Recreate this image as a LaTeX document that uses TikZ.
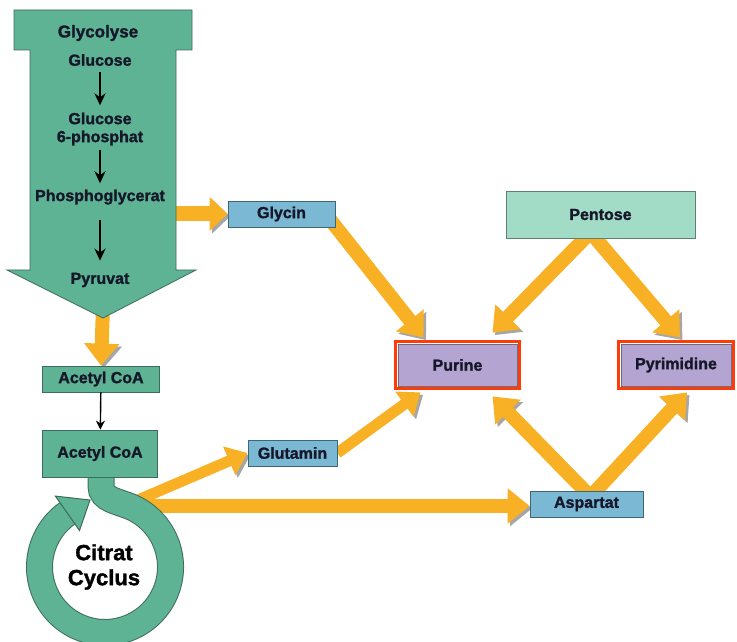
\documentclass[tikz,border=0pt]{standalone}
\usepackage{fontspec}
\setmainfont{Liberation Sans}[BoldFeatures={FakeBold=1.5}]
\usetikzlibrary{arrows.meta}
\pgfdeclarelayer{back}
\pgfsetlayers{back,main}

\definecolor{tealfill}{HTML}{5DB394}
\definecolor{tealline}{HTML}{3D6B5C}
\definecolor{mintfill}{HTML}{A3DCC6}
\definecolor{mintline}{HTML}{5F7F74}
\definecolor{bluefill}{HTML}{7BB8D4}
\definecolor{blueline}{HTML}{3F6675}
\definecolor{lilacfill}{HTML}{B4A4D2}
\definecolor{lilacline}{HTML}{6E6E80}
\definecolor{orangearr}{HTML}{F8B024}
\definecolor{redframe}{HTML}{FF3B0A}
\definecolor{ink}{HTML}{16182A}

\tikzset{
  lbl/.style={font=\fontsize{16}{18}\selectfont\bfseries, text=ink, inner sep=0pt},
  tealbox/.style={lbl, draw=tealline, line width=0.8pt, fill=tealfill},
  mintbox/.style={lbl, draw=mintline, line width=0.8pt, fill=mintfill},
  bluebox/.style={lbl, draw=blueline, line width=0.8pt, fill=bluefill},
  lilacbox/.style={lbl, draw=lilacline, line width=0.8pt, fill=lilacfill},
  fatarrow/.style={line width=14pt, draw=orangearr, -{Triangle[width=34pt,length=22pt]},
    preaction={draw=black!35, transform canvas={xshift=2.5pt,yshift=-2.5pt}}},
  thinarrow/.style={line width=1.9pt, -{Stealth[length=12pt,width=11pt]}}
}

\begin{document}
\begin{tikzpicture}[x=1pt,y=1pt]
\useasboundingbox (0,0) rectangle (737,641);

% Glycolyse
\filldraw [fill=tealfill, draw=tealline, line width=0.8pt]
  (14,631) -- (192,631) -- (192,591) -- (176,591) -- (176,371) -- (196,371)
  -- (103,323) -- (7,371) -- (30,371) -- (30,591) -- (14,591) -- cycle;
\node [lbl, font=\fontsize{17}{19}\selectfont\bfseries] (glyco) at (98,608) {Glycolyse};
\node [lbl] (glucose) at (100,581) {Glucose};
\node [lbl, align=center] (g6p) at (100,512) {Glucose\\6-phosphat};
\node [lbl] (pga) at (100,444) {Phosphoglycerat};
\node [lbl] (pyr) at (100,361) {Pyruvat};
\draw [thinarrow, shorten <=6pt, shorten >=7pt] (glucose) -- (g6p);
\draw [thinarrow, shorten <=4pt, shorten >=6pt] (g6p) -- (pga);
\draw [thinarrow, shorten <=15pt, shorten >=12pt] (pga) -- (pyr);
\coordinate (pyrout) at (103,335);
\coordinate (glyout) at (170,427);

% Citrat Cyclus
\foreach \w/\c in {27pt/tealline,25pt/tealfill}
  \draw [line width=\w, \c] (101,172) -- (101,155) .. controls (101,141) and (118,140) .. (132.7,133.4)
    arc [start angle=65, end angle=-235, radius=65.5];
\filldraw [fill=tealfill, draw=tealline, line width=1pt] (55.4,144.9) -- (90,141) -- (79.5,110.5) -- cycle;
\node [font=\fontsize{22}{25}\selectfont\bfseries, align=center] (citrat) at (104,74) {Citrat\\Cyclus};
\coordinate (cycout1) at (138,141);
\coordinate (cycout2) at (145,135);

% Boxes
\node [tealbox, minimum width=117pt, minimum height=26pt] (acetyl1) at (101,262) {Acetyl CoA};
\node [tealbox, minimum width=115pt, minimum height=47pt] (acetyl2) at (100,187.5) {Acetyl CoA};
\draw [line width=1.4pt, -{Stealth[length=9pt,width=9pt]}] (acetyl1) -- (acetyl2);
\node [bluebox, minimum width=107pt, minimum height=26pt] (glycin) at (281.5,427) {Glycin};
\node [bluebox, minimum width=89pt, minimum height=26pt] (glutamin) at (292.5,188) {Glutamin};
\node [bluebox, minimum width=113pt, minimum height=26pt] (aspartat) at (586.5,137) {Aspartat};
\node [mintbox, minimum width=189pt, minimum height=47pt] (pentose) at (600.5,426.5) {Pentose};
\node [lilacbox, minimum width=119pt, minimum height=42pt] (purine) at (457.5,276) {Purine};
\node [lilacbox, minimum width=110pt, minimum height=42pt] (pyrimidine) at (676,276) {Pyrimidine};
\draw [redframe, line width=3pt] ([shift={(-2.5pt,-2.5pt)}]purine.south west) rectangle ([shift={(2.5pt,2.5pt)}]purine.north east);
\draw [redframe, line width=3pt] ([shift={(-2.5pt,-2.5pt)}]pyrimidine.south west) rectangle ([shift={(2.5pt,2.5pt)}]pyrimidine.north east);

% orange arrows
\begin{pgfonlayer}{back}
\draw [fatarrow, line width=14pt] (pyrout) -- (acetyl1.north);
\draw [fatarrow, line width=15pt, -{Triangle[width=33pt,length=18pt]}] (glyout) -- (glycin.west);
\draw [fatarrow] ([shift={(-5pt,-6pt)}]glycin.east) -- ([xshift=-34pt,yshift=6pt]purine.north);
\draw [fatarrow, line width=11pt, -{Triangle[width=30pt,length=20pt]}] (glutamin.east) -- ([xshift=-37pt,yshift=-6pt]purine.south);
\draw [fatarrow] ([xshift=-10pt,yshift=6pt]pentose.south) -- ([xshift=35pt,yshift=11pt]purine.north);
\draw [fatarrow] ([xshift=-10pt,yshift=6pt]pentose.south) -- ([xshift=4pt,yshift=6pt]pyrimidine.north);
\draw [fatarrow] ([xshift=4pt,yshift=-6pt]aspartat.north) -- ([xshift=35pt,yshift=-10pt]purine.south);
\draw [fatarrow] ([xshift=4pt,yshift=-6pt]aspartat.north) -- ([xshift=11pt,yshift=-6pt]pyrimidine.south);
\draw [fatarrow, line width=11pt, -{Triangle[width=30pt,length=20pt]}] (cycout1) -- (glutamin.west);
\draw [fatarrow] (cycout2) -- (cycout2 -| aspartat.west);
\end{pgfonlayer}

\end{tikzpicture}
\end{document}
